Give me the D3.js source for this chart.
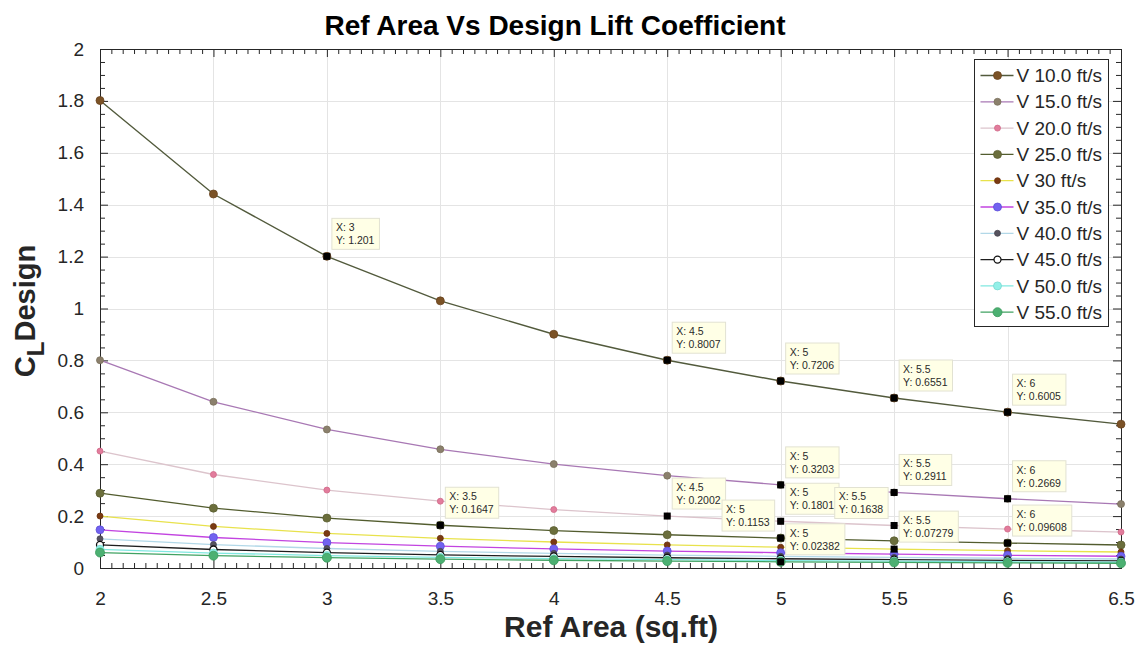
<!DOCTYPE html>
<html>
<head>
<meta charset="utf-8">
<script src="https://cdn.jsdelivr.net/npm/d3@7/dist/d3.min.js"></script>
<style>
  html, body { margin: 0; padding: 0; background: #fff; }
  svg { display: block; font-family: "Liberation Sans", Arial, Helvetica, sans-serif; }
</style>
</head>
<body>
<svg id="chart" width="1146" height="645"></svg>
<script>
// Reference area (sq.ft) on the x axis
const refArea = [2, 2.5, 3, 3.5, 4, 4.5, 5, 5.5, 6, 6.5];

// Design lift coefficient for each flight speed
const cl10 = [1.8015, 1.4412, 1.201, 1.0294, 0.9008, 0.8007, 0.7206, 0.6551, 0.6005, 0.5543];
const cl15 = [0.8007, 0.6405, 0.5338, 0.4575, 0.4003, 0.3559, 0.3203, 0.2911, 0.2669, 0.2464];
const cl20 = [0.4504, 0.3603, 0.3003, 0.2574, 0.2252, 0.2002, 0.1801, 0.1638, 0.1501, 0.1386];
const cl25 = [0.2882, 0.2306, 0.1922, 0.1647, 0.1441, 0.1281, 0.1153, 0.1048, 0.09608, 0.0887];
const cl30 = [0.2002, 0.1601, 0.1334, 0.1144, 0.1001, 0.0890, 0.0801, 0.07279, 0.0667, 0.0616];
const cl35 = [0.1471, 0.1176, 0.0980, 0.0840, 0.0735, 0.0654, 0.0588, 0.0535, 0.0490, 0.0452];
const cl40 = [0.1126, 0.0901, 0.0751, 0.0643, 0.0563, 0.0500, 0.0450, 0.0409, 0.0375, 0.0346];
const cl45 = [0.0890, 0.0712, 0.0593, 0.0508, 0.0445, 0.0395, 0.0356, 0.0324, 0.0297, 0.0274];
const cl50 = [0.0721, 0.0576, 0.0480, 0.0412, 0.0360, 0.0320, 0.0288, 0.0262, 0.0240, 0.0222];
const cl55 = [0.0596, 0.0476, 0.0397, 0.0340, 0.0298, 0.0265, 0.02382, 0.0217, 0.0199, 0.0183];

const seriesNames = ["V 10.0 ft/s", "V 15.0 ft/s", "V 20.0 ft/s", "V 25.0 ft/s", "V 30 ft/s",
                     "V 35.0 ft/s", "V 40.0 ft/s", "V 45.0 ft/s", "V 50.0 ft/s", "V 55.0 ft/s"];
const seriesValues = [cl10, cl15, cl20, cl25, cl30, cl35, cl40, cl45, cl50, cl55];

// Axis ticks
const xTicks = [2, 2.5, 3, 3.5, 4, 4.5, 5, 5.5, 6, 6.5];
const yTicks = [0, 0.2, 0.4, 0.6, 0.8, 1, 1.2, 1.4, 1.6, 1.8, 2];

// Pinned data tips: series index, x value, which side the label sits on
const tipSeries = [0, 0, 0, 0, 0, 1, 1, 1, 2, 2, 2, 3, 3, 3, 4, 9];
const tipX      = [3, 4.5, 5, 5.5, 6, 5, 5.5, 6, 4.5, 5, 5.5, 3.5, 5, 6, 5.5, 5];
const tipSide   = ["r", "r", "r", "r", "r", "r", "r", "r", "r", "r", "l", "r", "l", "r", "r", "r"];

// Line / marker styling per series
const lineColors   = ["#525a3c", "#a878b4", "#dcc4cc", "#525c2e", "#e8e24c", "#c244e0", "#b2d8e8", "#1e1e1e", "#80e8e0", "#40a262"];
const markerColors = ["#7b5226", "#8b806c", "#e27c9c", "#6b6e3c", "#7a3a12", "#7262f0", "#55525e", "#ffffff", "#92f0e8", "#4cb072"];
const markerStroke = ["#6a4420", "#7a705c", "#d06888", "#5c5f32", "#6a300c", "#5e50d8", "#45424e", "#111111", "#78d8d0", "#3a9a5c"];
const markerRadius = [4, 3.5, 3, 4, 3, 4, 3, 3.5, 4, 4.5];

const svg = d3.select("#chart");
const margin = { left: 100, right: 1121, top: 49, bottom: 568 };

const x = d3.scaleLinear().domain([2, 6.5]).range([margin.left, margin.right]);
const y = d3.scaleLinear().domain([0, 2]).range([margin.bottom, margin.top]);

svg.append("rect").attr("width", 1146).attr("height", 645).attr("fill", "#fff");

// Grid
const grid = svg.append("g").attr("stroke", "#e4e4e4").attr("stroke-width", 1);
grid.selectAll("line.gx").data(xTicks.slice(1, -1)).join("line")
  .attr("x1", d => Math.round(x(d)) + 0.5).attr("x2", d => Math.round(x(d)) + 0.5)
  .attr("y1", margin.top).attr("y2", margin.bottom);
grid.selectAll("line.gy").data(yTicks.slice(1, -1)).join("line")
  .attr("y1", d => Math.round(y(d)) + 0.5).attr("y2", d => Math.round(y(d)) + 0.5)
  .attr("x1", margin.left).attr("x2", margin.right);

// Axes with inward major and minor ticks on all four sides
const xMinor = d3.range(2, 6.5001, 0.05).filter(v => Math.abs(v * 2 - Math.round(v * 2)) > 1e-6);
const yMinor = d3.range(0, 2.0001, 0.05).filter(v => Math.abs(v * 5 - Math.round(v * 5)) > 1e-6);
const axisColor = "#262626";

function addAxis(axis, transform, cls) {
  const g = svg.append("g").attr("transform", transform).call(axis);
  g.select(".domain").remove();
  g.selectAll("line").attr("stroke", axisColor);
  return g;
}

const tickFmt = d3.format("~g");
const bottom = addAxis(d3.axisBottom(x).tickValues(xTicks).tickSize(-8).tickPadding(24).tickFormat(tickFmt),
  `translate(0,${margin.bottom})`);
bottom.selectAll("text").attr("font-size", 19).attr("fill", "#262626");
addAxis(d3.axisBottom(x).tickValues(xMinor).tickSize(-5).tickFormat(""), `translate(0,${margin.bottom})`);
addAxis(d3.axisTop(x).tickValues(xTicks).tickSize(-8).tickFormat(""), `translate(0,${margin.top})`);
addAxis(d3.axisTop(x).tickValues(xMinor).tickSize(-5).tickFormat(""), `translate(0,${margin.top})`);

const left = addAxis(d3.axisLeft(y).tickValues(yTicks).tickSize(-8).tickPadding(16).tickFormat(tickFmt),
  `translate(${margin.left},0)`);
left.selectAll("text").attr("font-size", 19).attr("fill", "#262626");
addAxis(d3.axisLeft(y).tickValues(yMinor).tickSize(-5).tickFormat(""), `translate(${margin.left},0)`);
addAxis(d3.axisRight(y).tickValues(yTicks).tickSize(-8).tickFormat(""), `translate(${margin.right},0)`);
addAxis(d3.axisRight(y).tickValues(yMinor).tickSize(-5).tickFormat(""), `translate(${margin.right},0)`);

// Axes box
svg.append("rect")
  .attr("x", margin.left + 0.5).attr("y", margin.top + 0.5)
  .attr("width", margin.right - margin.left).attr("height", margin.bottom - margin.top)
  .attr("fill", "none").attr("stroke", axisColor).attr("stroke-width", 1);

// Series lines and markers
const line = d3.line().x((d, i) => x(refArea[i])).y(d => y(d)).curve(d3.curveLinear);
const plot = svg.append("g");
seriesValues.forEach((vals, s) => {
  const g = plot.append("g");
  g.append("path").attr("d", line(vals)).attr("fill", "none")
    .attr("stroke", lineColors[s]).attr("stroke-width", s === 0 ? 1.4 : 1.3);
  g.selectAll("circle").data(vals).join("circle")
    .attr("cx", (d, i) => x(refArea[i])).attr("cy", d => y(d))
    .attr("r", markerRadius[s])
    .attr("fill", markerColors[s]).attr("stroke", markerStroke[s]).attr("stroke-width", s === 7 ? 1.3 : 0.8);
});

// Data tips
const tipG = svg.append("g");
const fmtY = d3.format(".4~g");
tipSeries.forEach((s, k) => {
  const xv = tipX[k];
  const idx = refArea.indexOf(xv);
  const yv = seriesValues[s][idx];
  const mx = x(xv), my = y(yv);
  const g = tipG.append("g");
  const box = g.append("rect");
  const t1 = g.append("text").text(`X: ${tickFmt(xv)}`);
  const t2 = g.append("text").text(`Y: ${fmtY(yv)}`);
  g.selectAll("text").attr("font-size", 10.5).attr("fill", "#2a2a2a");
  const w = Math.max(t1.node().getComputedTextLength(), t2.node().getComputedTextLength()) + 9;
  const h = 31;
  const bx = tipSide[k] === "r" ? mx + 5 : mx - 6 - w;
  const by = my - 7 - h;
  box.attr("x", bx).attr("y", by).attr("width", w).attr("height", h)
    .attr("fill", "#ffffe6").attr("stroke", "#e2e2d2").attr("stroke-width", 1);
  t1.attr("x", bx + 4).attr("y", by + 13);
  t2.attr("x", bx + 4).attr("y", by + 26);
  g.append("rect").attr("x", mx - 3.5).attr("y", my - 3.5).attr("width", 7).attr("height", 7).attr("fill", "#000");
});

// Legend
const legX = 974.5, legY = 59.5, legW = 134, legH = 267, rowH = 26.3;
const leg = svg.append("g");
leg.append("rect").attr("x", legX).attr("y", legY).attr("width", legW).attr("height", legH)
  .attr("fill", "#fff").attr("stroke", "#262626").attr("stroke-width", 1);
seriesNames.forEach((name, s) => {
  const cy = legY + 16 + s * rowH;
  leg.append("line").attr("x1", legX + 6).attr("x2", legX + 39).attr("y1", cy).attr("y2", cy)
    .attr("stroke", lineColors[s]).attr("stroke-width", 1.3);
  leg.append("circle").attr("cx", legX + 23).attr("cy", cy).attr("r", markerRadius[s])
    .attr("fill", markerColors[s]).attr("stroke", markerStroke[s]).attr("stroke-width", s === 7 ? 1.3 : 0.8);
  leg.append("text").attr("x", legX + 42).attr("y", cy).attr("dy", "0.35em")
    .attr("font-size", 19).attr("fill", "#262626").text(name);
});

// Title and axis labels
svg.append("text").attr("x", 555).attr("y", 35).attr("text-anchor", "middle")
  .attr("font-size", 28).attr("font-weight", "bold").attr("fill", "#000")
  .text("Ref Area Vs Design Lift Coefficient");

svg.append("text").attr("x", 611).attr("y", 637).attr("text-anchor", "middle")
  .attr("font-size", 30).attr("font-weight", "bold").attr("fill", "#262626")
  .text("Ref Area (sq.ft)");

const yl = svg.append("text").attr("transform", `translate(35,311) rotate(-90)`)
  .attr("text-anchor", "middle").attr("font-size", 29).attr("font-weight", "bold").attr("fill", "#262626");
yl.append("tspan").text("C");
yl.append("tspan").attr("dy", 9).attr("font-size", 24).text("L");
yl.append("tspan").attr("dy", -9).text("Design");
</script>
</body>
</html>
